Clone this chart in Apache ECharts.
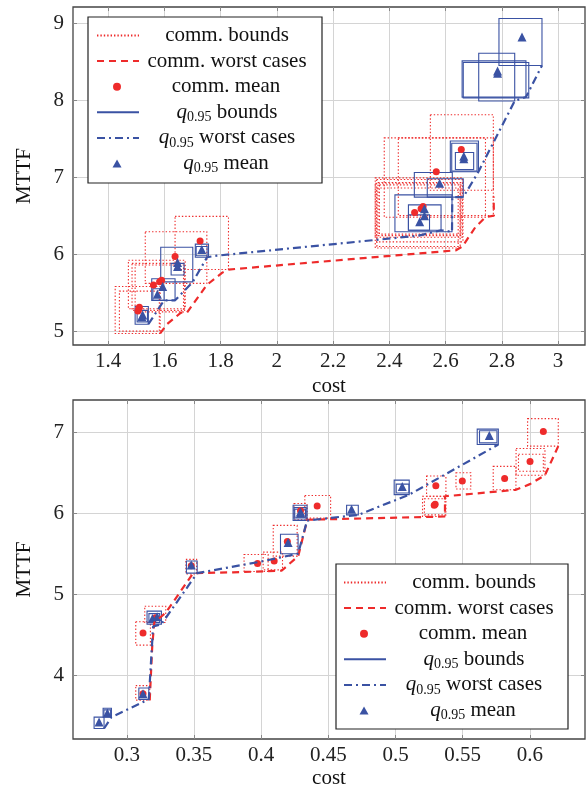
<!DOCTYPE html>
<html><head><meta charset="utf-8">
<script src="https://cdn.jsdelivr.net/npm/echarts@6/dist/echarts.min.js"></script>
<style>html,body{margin:0;padding:0;background:#fff}#c{width:586px;height:791px}</style>
</head><body><div id="c"></div>
<script>
// ---------- data ----------
const topXTicks = [1.4, 1.6, 1.8, 2, 2.2, 2.4, 2.6, 2.8, 3];
const topYTicks = [5, 6, 7, 8, 9];
const botXTicks = [0.3, 0.35, 0.4, 0.45, 0.5, 0.55, 0.6];
const botYTicks = [4, 5, 6, 7];

// bounds: [costMin, costMax, mttfMin, mttfMax]
const topCommBounds = [
  [1.638, 1.828, 5.80, 6.49], [1.532, 1.751, 5.62, 6.29], [1.472, 1.674, 5.29, 5.92],
  [1.485, 1.672, 5.27, 5.88], [1.496, 1.668, 5.25, 5.86], [1.425, 1.585, 4.97, 5.58],
  [1.440, 1.582, 5.00, 5.52],
  [2.546, 2.770, 6.83, 7.81], [2.382, 2.742, 6.48, 7.51], [2.432, 2.770, 6.50, 7.51],
  [2.350, 2.660, 6.22, 6.99], [2.355, 2.662, 6.16, 6.97], [2.360, 2.655, 6.24, 6.93],
  [2.365, 2.652, 6.26, 6.90], [2.350, 2.652, 6.08, 6.92], [2.356, 2.645, 6.10, 6.86]
];
const topCommWorst = [
  [1.585, 4.97], [1.609, 5.09], [1.659, 5.24], [1.680, 5.24], [1.751, 5.60], [1.806, 5.76],
  [1.828, 5.80], [2.637, 6.05], [2.660, 6.10], [2.706, 6.35], [2.742, 6.48], [2.772, 6.50], [2.771, 6.75]
];
const topCommMean = [
  [1.506, 5.26], [1.511, 5.31], [1.509, 5.29], [1.561, 5.60], [1.583, 5.64], [1.590, 5.66],
  [1.638, 5.97], [1.727, 6.17], [2.490, 6.54], [2.513, 6.59], [2.520, 6.62], [2.567, 7.07], [2.656, 7.36]
];
const topQBounds = [
  [1.496, 1.543, 5.09, 5.32], [1.503, 1.540, 5.12, 5.27], [1.555, 1.638, 5.40, 5.68],
  [1.559, 1.599, 5.40, 5.55], [1.587, 1.701, 5.64, 6.09], [1.624, 1.670, 5.73, 5.88],
  [1.710, 1.757, 5.96, 6.13], [1.713, 1.752, 5.98, 6.10],
  [2.420, 2.623, 6.29, 6.77], [2.468, 2.584, 6.31, 6.64], [2.468, 2.543, 6.31, 6.51],
  [2.489, 2.624, 6.74, 7.06], [2.535, 2.663, 6.74, 6.98], [2.617, 2.717, 7.07, 7.47],
  [2.622, 2.712, 7.08, 7.44], [2.635, 2.700, 7.10, 7.32], [2.659, 2.886, 8.04, 8.51],
  [2.663, 2.896, 8.03, 8.49], [2.718, 2.846, 7.99, 8.61], [2.790, 2.943, 8.45, 9.06]
];
const topQWorst = [
  [1.543, 5.09], [1.599, 5.40], [1.638, 5.40], [1.701, 5.64], [1.752, 5.96], [1.786, 5.98],
  [2.504, 6.24], [2.584, 6.31], [2.623, 6.29], [2.624, 6.74], [2.663, 6.74], [2.717, 7.07],
  [2.846, 7.99], [2.886, 8.04], [2.943, 8.45]
];
const topQMean = [
  [1.523, 5.21], [1.520, 5.19], [1.575, 5.48], [1.594, 5.58], [1.647, 5.84], [1.647, 5.89],
  [1.733, 6.06], [2.508, 6.42], [2.525, 6.59], [2.525, 6.50], [2.579, 6.92], [2.665, 7.24],
  [2.665, 7.27], [2.785, 8.35], [2.785, 8.38], [2.872, 8.82]
];

const botCommBounds = [
  [0.3067, 0.3171, 3.69, 3.87], [0.3067, 0.3176, 4.37, 4.66], [0.3134, 0.3290, 4.65, 4.85],
  [0.3440, 0.3520, 5.25, 5.43], [0.3873, 0.4052, 5.28, 5.49], [0.4015, 0.4159, 5.30, 5.52],
  [0.4090, 0.4268, 5.47, 5.85], [0.4245, 0.4342, 5.92, 6.12], [0.4325, 0.4517, 5.94, 6.22],
  [0.5231, 0.5375, 6.21, 6.46], [0.5201, 0.5368, 5.96, 6.21], [0.5215, 0.5375, 5.98, 6.18],
  [0.5450, 0.5560, 6.30, 6.50], [0.5727, 0.5896, 6.29, 6.58], [0.5897, 0.6112, 6.47, 6.80],
  [0.5915, 0.6100, 6.52, 6.73], [0.5983, 0.6211, 6.83, 7.17]
];
const botCommWorst = [
  [0.3171, 3.69], [0.3190, 4.37], [0.3205, 4.65], [0.3290, 4.77], [0.3494, 5.26], [0.3791, 5.27],
  [0.4152, 5.29], [0.4276, 5.47], [0.4343, 5.92], [0.5368, 5.96], [0.5368, 6.21], [0.5896, 6.29],
  [0.6000, 6.36], [0.6112, 6.47], [0.6211, 6.83]
];
const botCommMean = [
  [0.3121, 3.77], [0.3121, 4.52], [0.3215, 4.71], [0.3480, 5.35], [0.3973, 5.38], [0.4097, 5.41],
  [0.4195, 5.65], [0.4293, 6.03], [0.4417, 6.09], [0.5300, 6.34], [0.5288, 6.10], [0.5295, 6.11],
  [0.5497, 6.40], [0.5812, 6.43], [0.6001, 6.64], [0.6100, 7.01]
];
const botQBounds = [
  [0.2757, 0.2831, 3.34, 3.48], [0.2824, 0.2886, 3.48, 3.59], [0.2830, 0.2880, 3.50, 3.57],
  [0.3090, 0.3164, 3.70, 3.84], [0.3151, 0.3258, 4.63, 4.79], [0.3165, 0.3245, 4.65, 4.76],
  [0.3444, 0.3524, 5.26, 5.41], [0.4144, 0.4275, 5.50, 5.74], [0.4238, 0.4342, 5.91, 6.10],
  [0.4245, 0.4335, 5.93, 6.07], [0.4250, 0.4330, 5.95, 6.05], [0.4636, 0.4723, 5.98, 6.10],
  [0.4990, 0.5102, 6.23, 6.41], [0.5005, 0.5100, 6.25, 6.36], [0.5608, 0.5765, 6.85, 7.04],
  [0.5625, 0.5755, 6.87, 7.02]
];
const botQWorst = [
  [0.2831, 3.34], [0.2886, 3.48], [0.3164, 3.70], [0.3196, 4.60], [0.3258, 4.63], [0.3524, 5.26],
  [0.3990, 5.40], [0.4275, 5.50], [0.4342, 5.91], [0.4723, 5.98], [0.5102, 6.23], [0.5765, 6.85]
];
const botQMean = [
  [0.2794, 3.42], [0.2856, 3.53], [0.3121, 3.77], [0.3191, 4.70], [0.3226, 4.72], [0.3480, 5.36],
  [0.4201, 5.64], [0.4293, 6.00], [0.4293, 6.02], [0.4673, 6.05], [0.5050, 6.33], [0.5698, 6.96]
];

const legendNames = ['comm. bounds', 'comm. worst cases', 'comm. mean', 'q0.95 bounds', 'q0.95 worst cases', 'q0.95 mean'];

// ---------- style ----------
const FONT = 'Liberation Serif';
const RED = '#ee2b2b', BLUE = '#3a52a3';
const DOT = [1.4, 2], DASH = [7, 5], DASHDOT = [8, 4, 2, 4];

const ctx = document.createElement('canvas').getContext('2d');
function tw(text, size, italic) { ctx.font = (italic ? 'italic ' : '') + size + 'px "' + FONT + '"'; return ctx.measureText(text).width; }

const LW = 166; // legend text column width
const ICON_W = 42;
const iconSize = [[42, 14], [42, 14], [8, 8], [42, 14], [42, 14], [9, 8]];
const isLineRow = [true, true, false, true, true, false];
function legendRow(name, idx, left, cy) {
  let parts, total;
  if (name.startsWith('q0.95')) {
    const rest = name.slice(5);
    total = tw('q', 21, true) + tw('0.95', 14) + tw(rest, 21);
    parts = '{q|q}{s|0.95}{t|' + rest + '}';
  } else {
    total = tw(name, 21);
    parts = '{t|' + name + '}';
  }
  const iw = iconSize[idx][0], ih = iconSize[idx][1];
  const shift = (ICON_W - iw) / 2;
  const sp = Math.max(0, (LW - total) / 2) + shift;
  const lg = {
    data: [name], left: left + shift, top: cy - 12, orient: 'horizontal', itemWidth: iw,
    itemHeight: ih,
    itemGap: 0, padding: 0, selectedMode: false, symbolKeepAspect: true,
    formatter: () => '{sp|\u00a0}' + parts,
    textStyle: {
      color: '#111', fontFamily: FONT, fontSize: 21,
      rich: {
        sp: { width: sp, lineHeight: 24, fontSize: 21, fontFamily: FONT },
        t: { fontFamily: FONT, fontSize: 21, lineHeight: 24, color: '#111' },
        q: { fontFamily: FONT, fontSize: 21, fontStyle: 'italic', lineHeight: 24, color: '#111' },
        s: { fontFamily: FONT, fontSize: 14, lineHeight: 12, verticalAlign: 'bottom', color: '#111' }
      }
    }
  };
  if (isLineRow[idx]) lg.itemStyle = { opacity: 0, color: 'rgba(0,0,0,0)', borderWidth: 0 };
  return lg;
}
const topRows = [37, 62.6, 88.2, 113.8, 139.4, 165];
const botRows = [584, 609.6, 635.2, 660.8, 686.4, 712];
const legends = [];
legendNames.forEach((n, i) => legends.push(legendRow(n, i, 96, topRows[i])));
legendNames.forEach((n, i) => legends.push(legendRow(n, i, 343, botRows[i])));

function mkX(gi, min, max, ticks, mirror, gap) {
  return {
    type: 'value', gridIndex: gi, min: min, max: max, position: mirror ? 'top' : 'bottom',
    name: mirror ? '' : 'cost', nameLocation: 'middle', nameGap: gap,
    nameTextStyle: { fontFamily: FONT, fontSize: 21, color: '#111' },
    axisLine: { show: false },
    axisTick: { show: true, inside: true, length: 4, lineStyle: { color: '#888' }, customValues: ticks },
    axisLabel: { show: !mirror, customValues: ticks, margin: 6, fontFamily: FONT, fontSize: 21, color: '#222' },
    splitLine: { show: !mirror, lineStyle: { color: '#d4d4d4', width: 1 } }
  };
}
function mkY(gi, min, max, ticks, mirror) {
  return {
    type: 'value', gridIndex: gi, min: min, max: max, position: mirror ? 'right' : 'left',
    name: mirror ? '' : 'MTTF', nameLocation: 'middle', nameGap: 38,
    nameTextStyle: { fontFamily: FONT, fontSize: 21, color: '#111' },
    axisLine: { show: false },
    axisTick: { show: true, inside: true, length: 4, lineStyle: { color: '#888' }, customValues: ticks },
    axisLabel: { show: !mirror, customValues: ticks, margin: 9, fontFamily: FONT, fontSize: 21, color: '#222' },
    splitLine: { show: !mirror, lineStyle: { color: '#d4d4d4', width: 1 } }
  };
}

function rectSeries(name, data, ai, color, dash, width) {
  return {
    type: 'custom', name: name, xAxisIndex: ai, yAxisIndex: ai, data: data, silent: true,
    encode: { x: [0, 1], y: [2, 3] },
    renderItem: function (params, api) {
      const p1 = api.coord([api.value(0), api.value(3)]);
      const p2 = api.coord([api.value(1), api.value(2)]);
      return {
        type: 'rect',
        shape: { x: p1[0], y: p1[1], width: p2[0] - p1[0], height: p2[1] - p1[1] },
        style: { fill: 'none', stroke: color, lineWidth: width, lineDash: dash }
      };
    }
  };
}
function lineSeries(name, data, ai, color, dash) {
  return { type: 'line', name: name, xAxisIndex: ai, yAxisIndex: ai, data: data, symbol: 'none',
    lineStyle: { color: color, width: 2.2, type: dash }, itemStyle: { color: color }, silent: true };
}
function scatterSeries(name, data, ai, color, sym, size) {
  return { type: 'scatter', name: name, xAxisIndex: ai, yAxisIndex: ai, data: data, symbol: sym,
    symbolSize: size, symbolKeepAspect: true, itemStyle: { color: color, opacity: 1 }, silent: true };
}

const series = [
  // legend-icon carriers for the rectangle series
  { type: 'line', name: 'comm. bounds', data: [], symbol: 'none', lineStyle: { color: RED, width: 1.2, type: DOT }, itemStyle: { color: RED } },
  { type: 'line', name: 'q0.95 bounds', data: [], symbol: 'none', lineStyle: { color: BLUE, width: 1.2, type: 'solid' }, itemStyle: { color: BLUE } }
];
[[0, topCommBounds, topCommWorst, topCommMean, topQBounds, topQWorst, topQMean],
 [1, botCommBounds, botCommWorst, botCommMean, botQBounds, botQWorst, botQMean]].forEach(s => {
  const ai = s[0];
  series.push(rectSeries('comm. bounds', s[1], ai, RED, DOT, 1.1));
  series.push(lineSeries('comm. worst cases', s[2], ai, RED, DASH));
  series.push(scatterSeries('comm. mean', s[3], ai, RED, 'circle', 7));
  series.push(rectSeries('q0.95 bounds', s[4], ai, BLUE, null, 1.1));
  series.push(lineSeries('q0.95 worst cases', s[5], ai, BLUE, DASHDOT));
  series.push(scatterSeries('q0.95 mean', s[6], ai, BLUE, 'triangle', 9));
});

const option = {
  animation: false,
  backgroundColor: '#fff',
  grid: [
    { left: 73, top: 7, width: 512, height: 338, show: true, borderColor: '#444', borderWidth: 1.3, backgroundColor: 'transparent' },
    { left: 73, top: 400, width: 512, height: 339, show: true, borderColor: '#444', borderWidth: 1.3, backgroundColor: 'transparent' }
  ],
  xAxis: [
    mkX(0, 1.275, 3.096, topXTicks, false, 31),
    mkX(1, 0.26, 0.641, botXTicks, false, 29),
    mkX(0, 1.275, 3.096, topXTicks, true, 0),
    mkX(1, 0.26, 0.641, botXTicks, true, 0)
  ],
  yAxis: [
    mkY(0, 4.82, 9.21, topYTicks, false),
    mkY(1, 3.21, 7.40, botYTicks, false),
    mkY(0, 4.82, 9.21, topYTicks, true),
    mkY(1, 3.21, 7.40, botYTicks, true)
  ],
  graphic: [
    { type: 'rect', z: 3, shape: { x: 88, y: 17, width: 234, height: 166 }, style: { fill: '#fff', stroke: '#222', lineWidth: 1.2 } },
    { type: 'rect', z: 3, shape: { x: 336, y: 564, width: 232, height: 165 }, style: { fill: '#fff', stroke: '#222', lineWidth: 1.2 } }
  ],
  legend: legends,
  series: series
};
const chart = echarts.init(document.getElementById('c'), null, { renderer: 'canvas' });
chart.setOption(option);
</script>
</body></html>
